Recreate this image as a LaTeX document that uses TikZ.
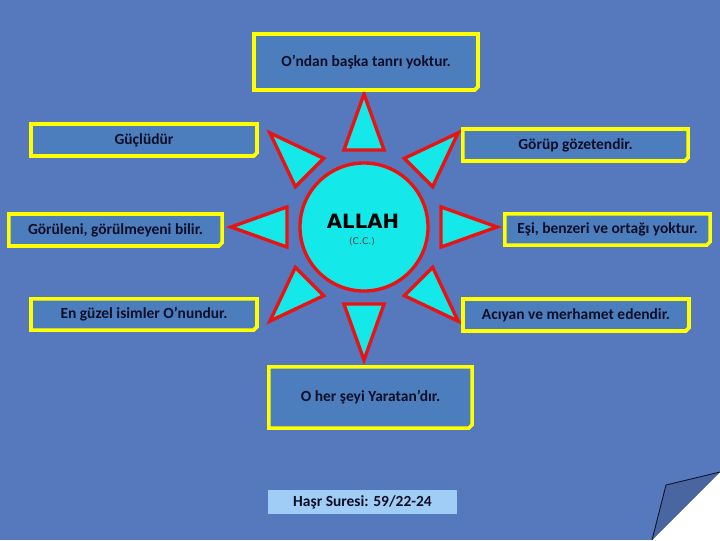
\documentclass[tikz,border=0pt]{standalone}
\usepackage{fontspec}
\setmainfont{Carlito}
\newfontfamily\allahfont{DejaVu Sans}
\usetikzlibrary{shapes.misc}

\definecolor{zemin}{RGB}{86,120,188}
\definecolor{kutumavi}{RGB}{76,126,190}
\definecolor{sari}{RGB}{255,255,0}
\definecolor{kirmizi}{RGB}{232,20,20}
\definecolor{camgobegi}{RGB}{20,232,232}
\definecolor{yazi}{RGB}{14,14,40}
\definecolor{acikmavi}{RGB}{160,205,245}

\begin{document}
\begin{tikzpicture}[x=0.025cm, y=-0.025cm, font=\bfseries\fontsize{11}{13}\selectfont,
	kutu/.style={chamfered rectangle, chamfered rectangle corners=south east,
		chamfered rectangle sep=1.2pt, draw=sari, line width=2.6pt,
		fill=kutumavi, text=yazi, inner sep=0pt},
	isin/.style={draw=kirmizi, line width=2.4pt, line join=miter, fill=camgobegi}]
		
		% --- zemin
		\fill[zemin] (0,0) rectangle (720,540);
		\useasboundingbox (0,0) rectangle (720,540);
		
		% --- ortadaki daire
		\node[circle, isin, minimum size=3.2cm] (allah) at (364,227) {};
		\node[font=\allahfont\bfseries\fontsize{14}{16}\selectfont] (isim) at (363,221) {ALLAH};
		\node[font=\allahfont\fontsize{6.5}{8}\selectfont, text=black!75] (cc) at (362,242) {(C.C.)};
		
		% --- isinlar (sekiz ucgen)
		\begin{scope}[shift={(allah.center)}]
			\foreach \a in {0,45,...,315}
				\draw[isin] (\a:133) -- (\a+14.6:79.6) -- (\a-14.6:79.6) -- cycle;
		\end{scope}
		
		% --- kutular
		\node[kutu, minimum width=5.6cm, minimum height=1.4cm] (tanri) at (366,62) {O’ndan başka tanrı yoktur.};
		\node[kutu, minimum width=5.65cm, minimum height=0.8cm] (guclu) at (144,140) {Güçlüdür};
		\node[kutu, minimum width=5.33cm, minimum height=0.8cm] (bilir) at (115.5,230) {Görüleni, görülmeyeni bilir.};
		\node[kutu, minimum width=5.65cm, minimum height=0.78cm] (isimler) at (144,314.5) {En güzel isimler O’nundur.};
		\node[kutu, minimum width=5.63cm, minimum height=0.8cm] (gozeten) at (575.5,145) {Görüp gözetendir.};
		\node[kutu, minimum width=5.13cm, minimum height=0.78cm] (esi) at (607.5,229.5) {Eşi, benzeri ve ortağı yoktur.};
		\node[kutu, minimum width=5.65cm, minimum height=0.8cm] (aciyan) at (576,315) {Acıyan ve merhamet edendir.};
		\node[kutu, minimum width=5.08cm, minimum height=1.53cm] (yaratan) at (370.5,397.5) {O her şeyi Yaratan’dır.};
		
		% --- kaynak
		\node[fill=acikmavi, text=yazi, minimum width=4.73cm, minimum height=0.6cm, inner sep=0pt] (kaynak) at (362.5,502) {Haşr Suresi: 59/22-24};
		
		% --- sayfa kivrimi (sag alt kose)
		\fill[white] (720,472) -- (720,540) -- (652,540) -- cycle;
		\filldraw[fill=zemin!85!black, draw=yazi, line width=0.6pt] (720,472) -- (666,485) -- (652,540);
		
	\end{tikzpicture}
\end{document}
